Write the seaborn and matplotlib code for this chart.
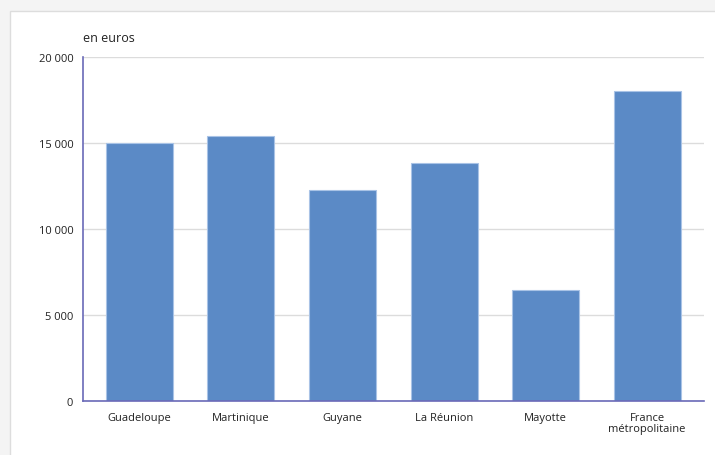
import matplotlib
matplotlib.use("Agg")
import matplotlib.pyplot as plt
import seaborn as sns
import pandas as pd
from matplotlib.patches import Rectangle
from matplotlib.ticker import FuncFormatter

categories = ["Guadeloupe", "Martinique", "Guyane", "La Réunion", "Mayotte", "France\nmétropolitaine"]
values = [15000, 15380, 12280, 13850, 6480, 18020]
yticks = [0, 5000, 10000, 15000, 20000]

df = pd.DataFrame({"cat": categories, "val": values})

sns.set_theme(style="white")
plt.rcParams["font.family"] = ["Open Sans", "DejaVu Sans"]

W, H = 715, 456
fig = plt.figure(figsize=(W / 100, H / 100), dpi=100)
fig.patch.set_facecolor("#f4f4f4")

bg = fig.add_axes([0, 0, 1, 1], zorder=-10)
bg.set_axis_off()
bg.set_xlim(0, 1)
bg.set_ylim(0, 1)
bg.add_patch(Rectangle((10 / W, -0.01), 1, 1.01 - 12 / H, facecolor="white",
                       edgecolor="#dddddd", linewidth=1))

ax = fig.add_axes([83 / W, 1 - 402 / H, (704 - 83) / W, (402 - 58) / H])
ax.set_facecolor("none")

sns.barplot(data=df, x="cat", y="val", ax=ax, color="#5b8ac6", saturation=1,
            width=0.66, edgecolor="#a9c3e6", linewidth=0.8, zorder=3)

ax.set_ylim(0, 20000)
ax.set_xlim(-0.556, 5.56)
ax.set_yticks(yticks)
ax.yaxis.set_major_formatter(FuncFormatter(lambda v, p: f"{int(v):,}".replace(",", " ")))
ax.grid(axis="y", color="#dcdcdc", linewidth=1, zorder=0)
ax.set_axisbelow(True)
ax.set_xlabel("")
ax.set_ylabel("")

for s in ["top", "right"]:
    ax.spines[s].set_visible(False)
for s in ["left", "bottom"]:
    ax.spines[s].set_color("#6a6ab8")
    ax.spines[s].set_linewidth(1.2)
    ax.spines[s].set_zorder(5)

ax.tick_params(axis="both", length=0, labelsize=8, colors="#222222")
ax.tick_params(axis="y", pad=7)
ax.tick_params(axis="x", pad=8)
for lab in ax.get_xticklabels():
    lab.set_linespacing(1.0)

fig.text(83 / W, 1 - 38 / H, "en euros", fontsize=9, color="#222222", ha="left", va="center")

fig.savefig("out.png", dpi=100)
